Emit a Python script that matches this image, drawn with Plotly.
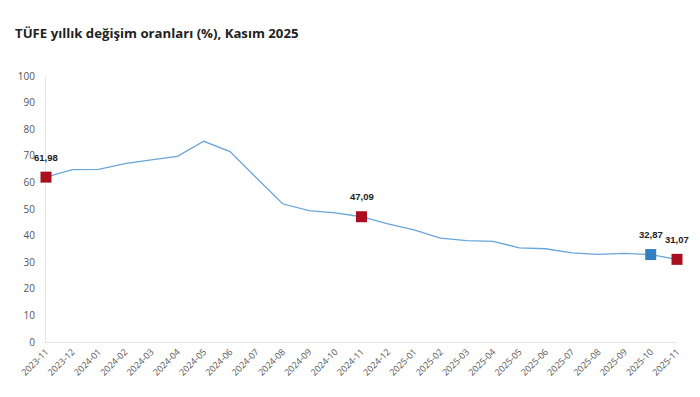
import plotly.graph_objects as go

months = ["2023-11","2023-12","2024-01","2024-02","2024-03","2024-04","2024-05","2024-06",
          "2024-07","2024-08","2024-09","2024-10","2024-11","2024-12","2025-01","2025-02",
          "2025-03","2025-04","2025-05","2025-06","2025-07","2025-08","2025-09","2025-10","2025-11"]
values = [61.98,64.77,64.86,67.07,68.50,69.80,75.45,71.60,61.78,51.97,49.38,48.58,47.09,
          44.38,42.12,39.05,38.10,37.86,35.41,35.05,33.52,32.95,33.29,32.87,31.07]
red_months = ["2023-11","2024-11","2025-11"]
blue_months = ["2025-10"]
y_ticks = [0,10,20,30,40,50,60,70,80,90,100]

lookup = dict(zip(months, values))
fmt = lambda v: f"{v:.2f}".replace(".", ",")

fig = go.Figure()
fig.add_trace(go.Scatter(x=months, y=values, mode="lines",
                         line=dict(color="#6aa5da", width=1.3), hoverinfo="skip"))
fig.add_trace(go.Scatter(x=red_months, y=[lookup[m] for m in red_months], mode="markers",
                         marker=dict(symbol="square", size=11, color="#a8101f"),
                         cliponaxis=False))
fig.add_trace(go.Scatter(x=blue_months, y=[lookup[m] for m in blue_months], mode="markers",
                         marker=dict(symbol="square", size=11, color="#2f7fc1"),
                         cliponaxis=False))

for m in red_months + blue_months:
    fig.add_annotation(x=m, y=lookup[m], text=f"<b>{fmt(lookup[m])}</b>", showarrow=False,
                       yshift=20, font=dict(size=9.5, color="#222", family="Liberation Sans"))

fig.update_layout(
    width=700, height=397, showlegend=False,
    paper_bgcolor="white", plot_bgcolor="white",
    margin=dict(l=46, r=23, t=76, b=55),
    title=dict(text="<b>TÜFE yıllık değişim oranları (%), Kasım 2025</b>",
               x=15/700, xanchor="left", xref="container",
               y=1-33/397, yanchor="middle", yref="container",
               font=dict(size=13.2, color="#222", family="Open Sans")),
    font=dict(family="Open Sans", color="#555"),
)
fig.update_xaxes(type="category", range=[0, 24], showgrid=False, showline=True,
                 linecolor="#e6e6e6", linewidth=1, tickangle=-45, automargin=False,
                 layer="below traces",
                 tickfont=dict(size=9, color="#555"), ticks="")
fig.update_yaxes(range=[0, 100], tickvals=y_ticks, showgrid=False, showline=True,
                 linecolor="#e6e6e6", linewidth=1, zeroline=False, automargin=False,
                 layer="below traces",
                 tickfont=dict(size=10, color="#555"), ticks="", ticklabelstandoff=8)

fig.write_html("out.html", config={"displayModeBar": False},
               post_script="document.body.style.margin='0';document.body.style.padding='0';")
